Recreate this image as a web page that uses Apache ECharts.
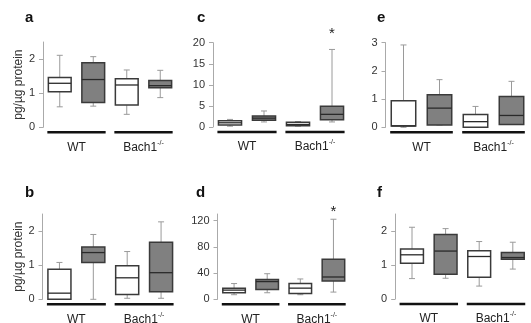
<!DOCTYPE html>
<html>
<head>
<meta charset="utf-8">
<script src="https://cdn.jsdelivr.net/npm/echarts@6/dist/echarts.min.js"></script>
<style>
  html, body { margin: 0; padding: 0; background: #fff; }
  #main { width: 531px; height: 323px; }
</style>
</head>
<body>
<div id="main"></div>
<script>
// box data: [min, Q1, median, Q3, max] ; order WT-white, WT-gray, Bach1-white, Bach1-gray
const groups = ['WT', 'Bach1']
const panelA = [[0.6, 1.04, 1.29, 1.46, 2.11], [0.62, 0.73, 1.4, 1.89, 2.07], [0.38, 0.65, 1.24, 1.42, 1.68], [0.87, 1.16, 1.22, 1.37, 1.67]]
const panelB = [[0, 0, 0.18, 0.88, 1.08], [0, 1.08, 1.37, 1.53, 1.9], [0.03, 0.14, 0.63, 0.98, 1.4], [0.03, 0.22, 0.78, 1.67, 2.27]]
const panelC = [[0.2, 0.5, 1.0, 1.5, 1.8], [1.2, 1.6, 2.1, 2.6, 3.8], [0.2, 0.3, 0.6, 1.1, 1.3], [1.2, 1.7, 3.0, 4.9, 18.4]]
const panelD = [[7, 10, 14, 17, 24], [10, 15, 27, 30, 39], [7, 9, 17, 24, 31], [11, 28, 34, 61, 122]]
const panelE = [[0, 0.05, 0.05, 0.94, 2.92], [0.08, 0.08, 0.68, 1.15, 1.69], [0, 0, 0.2, 0.45, 0.74], [0.1, 0.1, 0.42, 1.09, 1.63]]
const panelF = [[0.6, 1.05, 1.3, 1.47, 2.11], [0.61, 0.73, 1.41, 1.9, 2.07], [0.38, 0.64, 1.25, 1.42, 1.69], [0.88, 1.17, 1.22, 1.37, 1.67]]
// significance stars: [box index, y value]
const starsC = [[4, 22]]
const starsD = [[4, 133]]
const ticksA = [0, 1, 2]
const ticksC = [0, 5, 10, 15, 20]
const ticksE = [0, 1, 2, 3]
const ticksD = [0, 40, 80, 120]

const FILL = ['#ffffff', '#808080', '#ffffff', '#808080']

const panels = [
  { letter: 'a', data: panelA, stars: [], ticks: ticksA, max: 2.5, grid: { left: 43, top: 42, width: 134, height: 85.3 }, lx: 25, ly: 10, yname: true },
  { letter: 'c', data: panelC, stars: starsC, ticks: ticksC, max: 20, grid: { left: 213, top: 42.7, width: 136, height: 84.3 }, lx: 197, ly: 10 },
  { letter: 'e', data: panelE, stars: [], ticks: ticksE, max: 3, grid: { left: 385.5, top: 42.7, width: 144, height: 84.6 }, lx: 377, ly: 10 },
  { letter: 'b', data: panelB, stars: [], ticks: ticksA, max: 2.5, grid: { left: 42.5, top: 214, width: 135.5, height: 85.3 }, lx: 25, ly: 185, yname: true },
  { letter: 'd', data: panelD, stars: starsD, ticks: ticksD, max: 130, grid: { left: 217.5, top: 214, width: 132.5, height: 85.3 }, lx: 196, ly: 185 },
  { letter: 'f', data: panelF, stars: [], ticks: ticksA, max: 2.5, grid: { left: 395.2, top: 214, width: 134.4, height: 85 }, lx: 377, ly: 185 }
]

function renderBox(params, api) {
  const x = api.value(0)
  const lo = api.coord([x, api.value(1)])
  const q1 = api.coord([x, api.value(2)])
  const med = api.coord([x, api.value(3)])
  const q3 = api.coord([x, api.value(4)])
  const hi = api.coord([x, api.value(5)])
  const w = api.size([0.68, 0])[0]
  const cx = lo[0]
  const cap = 3
  const whisker = { stroke: '#9a9a9a', lineWidth: 1 }
  return {
    type: 'group',
    children: [
      { type: 'line', shape: { x1: cx, y1: q3[1], x2: cx, y2: hi[1] }, style: whisker },
      { type: 'line', shape: { x1: cx - cap, y1: hi[1], x2: cx + cap, y2: hi[1] }, style: whisker },
      { type: 'line', shape: { x1: cx, y1: q1[1], x2: cx, y2: lo[1] }, style: whisker },
      { type: 'line', shape: { x1: cx - cap, y1: lo[1], x2: cx + cap, y2: lo[1] }, style: whisker },
      {
        type: 'rect',
        shape: { x: cx - w / 2, y: q3[1], width: w, height: q1[1] - q3[1] },
        style: { fill: FILL[params.dataIndex], stroke: '#3a3a3a', lineWidth: 1.5 }
      },
      { type: 'line', shape: { x1: cx - w / 2, y1: med[1], x2: cx + w / 2, y2: med[1] }, style: { stroke: '#2a2a2a', lineWidth: 1.3 } }
    ]
  }
}

function renderGroup(params, api) {
  const x = api.value(0)
  const left = api.coord([x - 0.87, 0])
  const right = api.coord([x + 0.87, 0])
  const name = groups[params.dataIndex]
  return {
    type: 'group',
    children: [
      { type: 'line', shape: { x1: left[0], y1: left[1] + 5, x2: right[0], y2: right[1] + 5 }, style: { stroke: '#111', lineWidth: 2.6 } },
      {
        type: 'text',
        x: (left[0] + right[0]) / 2,
        y: left[1] + 19,
        style: {
          text: name === 'WT' ? '{m|WT}' : '{m|Bach1}{s|-/-}',
          align: 'center',
          verticalAlign: 'middle',
          rich: {
            m: { fontSize: 12, fontFamily: 'Liberation Sans', fill: '#222', lineHeight: 14, verticalAlign: 'bottom' },
            s: { fontSize: 7, fontFamily: 'Liberation Sans', fill: '#222', lineHeight: 14, verticalAlign: 'top' }
          }
        }
      }
    ]
  }
}

function renderStar(params, api) {
  const p = api.coord([api.value(0), api.value(1)])
  return {
    type: 'text',
    x: p[0],
    y: p[1],
    style: { text: '*', align: 'center', verticalAlign: 'middle', fontSize: 15, fontFamily: 'Liberation Sans', fill: '#222' }
  }
}

const chart = echarts.init(document.getElementById('main'), null, { renderer: 'canvas' })

const grid = [], xAxis = [], yAxis = [], series = [], graphic = []
panels.forEach((p, i) => {
  grid.push(p.grid)
  xAxis.push({ type: 'value', gridIndex: i, min: 0.5, max: 4.5, show: false })
  yAxis.push({
    type: 'value',
    gridIndex: i,
    min: 0,
    max: p.max,
    name: p.yname ? 'pg/µg protein' : '',
    nameLocation: 'middle',
    nameRotate: 90,
    nameGap: 18,
    nameTextStyle: { fontSize: 12, fontFamily: 'Liberation Sans', color: '#333' },
    splitLine: { show: false },
    axisLine: { show: true, lineStyle: { color: '#aaaaaa', width: 1 } },
    axisTick: { show: true, length: 4, lineStyle: { color: '#aaaaaa' }, customValues: p.ticks },
    axisLabel: { fontSize: 11, fontFamily: 'Liberation Sans', color: '#333', margin: 8, customValues: p.ticks }
  })
  series.push({
    type: 'custom',
    xAxisIndex: i,
    yAxisIndex: i,
    renderItem: renderBox,
    data: p.data.map((d, k) => [k + 1].concat(d)),
    silent: true
  })
  series.push({
    type: 'custom',
    xAxisIndex: i,
    yAxisIndex: i,
    renderItem: renderGroup,
    data: groups.map((g, k) => [1.5 + 2 * k]),
    silent: true
  })
  if (p.stars.length) {
    series.push({
      type: 'custom',
      xAxisIndex: i,
      yAxisIndex: i,
      renderItem: renderStar,
      data: p.stars,
      silent: true
    })
  }
  graphic.push({
    type: 'text',
    left: p.lx,
    top: p.ly,
    style: { text: p.letter, fontSize: 15, fontWeight: 'bold', fontFamily: 'Liberation Sans', fill: '#111' }
  })
})

chart.setOption({
  animation: false,
  grid: grid,
  xAxis: xAxis,
  yAxis: yAxis,
  series: series,
  graphic: graphic
})
</script>
</body>
</html>
